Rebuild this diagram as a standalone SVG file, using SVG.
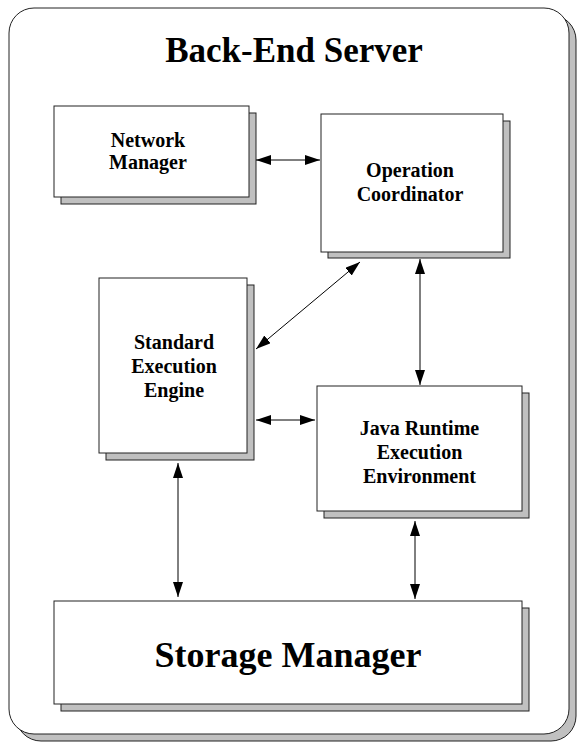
<svg xmlns="http://www.w3.org/2000/svg" width="577" height="742" viewBox="0 0 577 742">
  <style>
    .shadow { fill: #c0c0c0; stroke: #222; stroke-width: 1; }
    .box { fill: #fff; stroke: #222; stroke-width: 1; }
    .label { font-family: "Liberation Serif", "Times New Roman", serif; font-weight: bold; fill: #000; text-anchor: middle; }
    .node-label { font-size: 20px; }
    .link { stroke: #000; stroke-width: 1; fill: none; marker-start: url(#head); marker-end: url(#head); }
  </style>
  <defs>
    <marker id="head" viewBox="0 0 15 10" refX="15" refY="5" markerWidth="15" markerHeight="10" markerUnits="userSpaceOnUse" orient="auto-start-reverse">
      <path d="M0,0 L15,5 L0,10 Z" fill="#000"/>
    </marker>
  </defs>

  <rect width="577" height="742" fill="#fff"/>

  <!-- server frame -->
  <g id="server">
    <rect class="shadow" x="16" y="15" width="560" height="726" rx="25" ry="25"/>
    <rect class="box" x="9" y="8" width="560" height="726" rx="25" ry="25"/>
    <text class="label" x="294" y="62" font-size="35">Back-End Server</text>
  </g>

  <g id="network-manager">
    <rect class="shadow" x="61" y="113" width="195" height="91"/>
    <rect class="box" x="54" y="106" width="195" height="91"/>
    <text class="label node-label" x="148" y="147">Network</text>
    <text class="label node-label" x="148" y="169">Manager</text>
  </g>

  <g id="operation-coordinator">
    <rect class="shadow" x="328" y="121" width="182" height="137"/>
    <rect class="box" x="321" y="114" width="182" height="138"/>
    <text class="label node-label" x="410" y="177">Operation</text>
    <text class="label node-label" x="410" y="201">Coordinator</text>
  </g>

  <g id="standard-execution-engine">
    <rect class="shadow" x="106" y="285" width="148" height="175"/>
    <rect class="box" x="99" y="278" width="148" height="175"/>
    <text class="label node-label" x="174" y="349">Standard</text>
    <text class="label node-label" x="174" y="373">Execution</text>
    <text class="label node-label" x="174" y="397">Engine</text>
  </g>

  <g id="java-runtime">
    <rect class="shadow" x="324" y="393" width="205" height="125"/>
    <rect class="box" x="317" y="386" width="205" height="125"/>
    <text class="label node-label" x="419.5" y="435">Java Runtime</text>
    <text class="label node-label" x="419.5" y="459">Execution</text>
    <text class="label node-label" x="419.5" y="483">Environment</text>
  </g>

  <g id="storage-manager">
    <rect class="shadow" x="61" y="608" width="468" height="103"/>
    <rect class="box" x="54" y="601" width="468" height="103"/>
    <text class="label" x="288" y="667" font-size="36">Storage Manager</text>
  </g>

  <g id="connectors">
    <line class="link" x1="256" y1="160" x2="320" y2="160"/>
    <line class="link" x1="360" y1="262" x2="256" y2="349"/>
    <line class="link" x1="420" y1="259" x2="420" y2="385"/>
    <line class="link" x1="256" y1="420" x2="315" y2="420"/>
    <line class="link" x1="178" y1="463" x2="178" y2="597"/>
    <line class="link" x1="415" y1="521" x2="415" y2="599"/>
  </g>
</svg>
